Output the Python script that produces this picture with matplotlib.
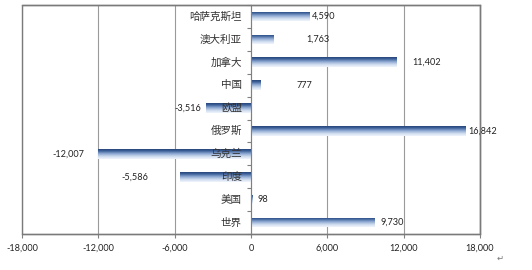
import matplotlib
matplotlib.use('Agg')
import matplotlib.pyplot as plt
import numpy as np
from matplotlib.colors import LinearSegmentedColormap
from matplotlib.patches import Rectangle
from matplotlib.ticker import FixedLocator

categories = ['哈萨克斯坦', '澳大利亚', '加拿大', '中国', '欧盟',
              '俄罗斯', '乌克兰', '印度', '美国', '世界']
values = [4590, 1763, 11402, 777, -3516, 16842, -12007, -5586, 98, 9730]
value_labels = ['4,590', '1,763', '11,402', '777', '-3,516',
                '16,842', '-12,007', '-5,586', '98', '9,730']
x_ticks = [-18000, -12000, -6000, 0, 6000, 12000, 18000]
x_tick_labels = ['-18,000', '-12,000', '-6,000', '0', '6,000', '12,000', '18,000']

# horizontal gap (points) between each bar end and its value label
label_gap_pt = [2, 24, 11.5, 26, 4, 2, 10, 23, 4, 4]

plt.rcParams['font.family'] = ['Lato', 'Noto Sans CJK SC', 'DejaVu Sans']

fig = plt.figure(figsize=(5.32, 2.70), dpi=100)
ax = fig.add_axes([22 / 532, 36 / 270, 458 / 532, 229 / 270])

n = len(categories)
ypos = np.arange(n)[::-1]
bar_h = 0.42

grad_cmap = LinearSegmentedColormap.from_list(
    'bar_grad',
    [(0.0, '#27467a'), (0.18, '#3c5f98'), (0.45, '#8aa6d0'),
     (0.75, '#cfdcef'), (1.0, '#f1f5fc')])
gradient = np.linspace(0, 1, 64).reshape(-1, 1)

bars = ax.barh(ypos, values, height=bar_h, color='none', edgecolor='none', zorder=2)
for bar in bars:
    x0 = bar.get_x()
    x1 = x0 + bar.get_width()
    y0 = bar.get_y()
    y1 = y0 + bar.get_height()
    im = ax.imshow(gradient, cmap=grad_cmap, aspect='auto', origin='upper',
                   extent=(min(x0, x1), max(x0, x1), y0, y1), zorder=2,
                   interpolation='bilinear')
    im.set_clip_path(bar)

ax.set_xlim(-18000, 18000)
ax.set_ylim(-0.5, n - 0.5)

# value labels
for y, v, lab, gap in zip(ypos, values, value_labels, label_gap_pt):
    if v >= 0:
        ax.annotate(lab, xy=(v, y), xytext=(gap, 0), textcoords='offset points',
                    ha='left', va='center', fontsize=6.6, color='#222222', zorder=4)
    else:
        ax.annotate(lab, xy=(v, y), xytext=(-gap, 0), textcoords='offset points',
                    ha='right', va='center', fontsize=6.6, color='#222222', zorder=4)

# category names beside the zero axis, drawn above the bars
for y, name in zip(ypos, categories):
    ax.annotate(name, xy=(0, y), xytext=(-6.5, 0), textcoords='offset points',
                ha='right', va='center', fontsize=7.6, color='#333333',
                family=['Noto Sans CJK SC', 'DejaVu Sans'], zorder=4)

# x axis
ax.set_xticks(x_ticks)
ax.set_xticklabels(x_tick_labels, fontsize=6.6, color='#222222')
ax.tick_params(axis='x', direction='out', length=3, width=0.8, color='#808080', pad=4)
ax.xaxis.grid(True, color='#9a9a9a', linewidth=0.8, zorder=0)
ax.set_axisbelow(True)

# category axis through zero
ax.spines['left'].set_position(('data', 0))
ax.spines['left'].set_color('#808080')
ax.spines['left'].set_linewidth(0.8)
ax.set_yticks(ypos)
ax.set_yticklabels([''] * n)
ax.yaxis.set_minor_locator(FixedLocator(np.arange(n + 1) - 0.5))
ax.tick_params(axis='y', which='major', length=0)
ax.tick_params(axis='y', which='minor', direction='out', length=3,
               width=0.8, color='#808080')

for side in ['top', 'right', 'bottom']:
    ax.spines[side].set_color('#7a7a7a')
    ax.spines[side].set_linewidth(1.0)
ax.spines['bottom'].set_color('#909090')

# outer frame edge on the left
ax.add_patch(Rectangle((0, 0), 1, 1, transform=ax.transAxes, fill=False,
                       edgecolor='#7a7a7a', linewidth=1.0, clip_on=False, zorder=5))

fig.text(500 / 532, 1 - 258 / 270, '↵', fontsize=6, color='#777777',
         family=['DejaVu Sans'], ha='center', va='center')

fig.savefig('out.png', dpi=100)
